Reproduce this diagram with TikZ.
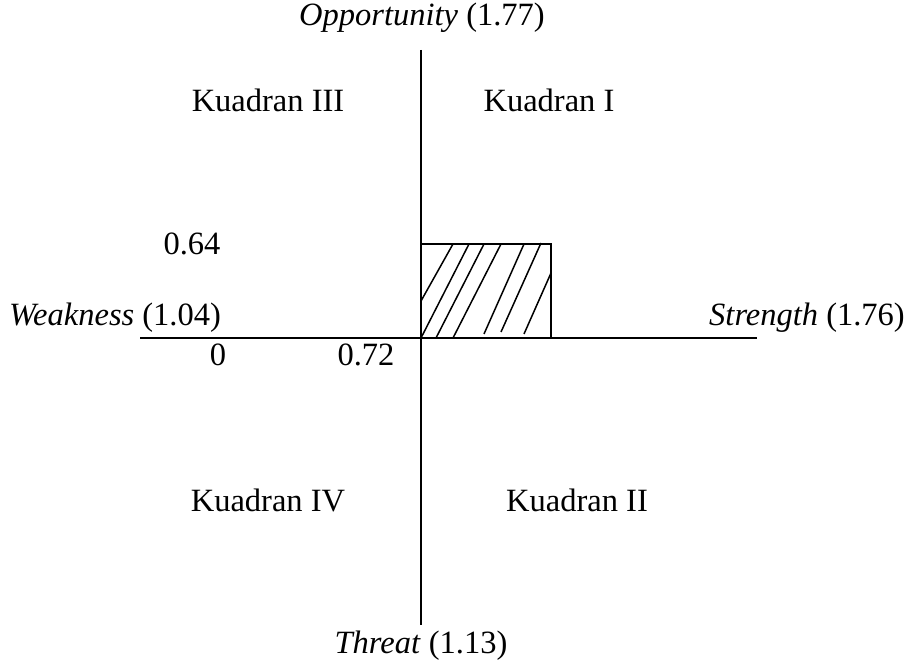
\documentclass[tikz,border=0pt]{standalone}
\usepackage{fontspec}
\setmainfont{Liberation Serif}
\begin{document}
\begin{tikzpicture}[x=1pt,y=-1pt,
  lbl/.style={inner sep=0pt,anchor=center,font=\fontsize{32.5}{38}\selectfont},
  axis/.style={line width=1.8pt},
  hatch/.style={line width=1.5pt}]
\useasboundingbox (0,0) rectangle (906,663);
% axes
\coordinate (top) at (421,50);
\coordinate (bot) at (421,625);
\coordinate (left) at (140,338);
\coordinate (right) at (757,338);
\coordinate (o) at (421,338);
\draw[axis] (top) -- (bot);
\draw[axis] (left) -- (right);
% rectangle
\coordinate (r1) at (421,244);
\coordinate (r2) at (551,244);
\coordinate (r3) at (551,338);
\draw[axis] (r1) -- (r2) -- (r3);
% hatching
\draw[hatch] (421,301) -- (453,244);
\draw[hatch] (421,338) -- (469,244);
\draw[hatch] (436,338) -- (484,244);
\draw[hatch] (453,338) -- (501,244);
\draw[hatch] (484,334) -- (524,244);
\draw[hatch] (501,332) -- (541,243);
\draw[hatch] (524,334) -- (551,273);
% labels
\node[lbl] (opp) at (422,18) {\textit{Opportunity} (1.77)};
\node[lbl] (k3) at (268,100) {Kuadran III};
\node[lbl] (k1) at (549,100) {Kuadran I};
\node[lbl] (v064) at (192,244) {0.64};
\node[lbl] (weak) at (115,318) {\textit{Weakness} (1.04)};
\node[lbl] (str) at (807,318) {\textit{Strength} (1.76)};
\node[lbl] (z) at (218,355) {0};
\node[lbl] (v072) at (366,355) {0.72};
\node[lbl] (k4) at (268,500) {Kuadran IV};
\node[lbl] (k2) at (577,500) {Kuadran II};
\node[lbl] (thr) at (421,646) {\textit{Threat} (1.13)};
\end{tikzpicture}
\end{document}
